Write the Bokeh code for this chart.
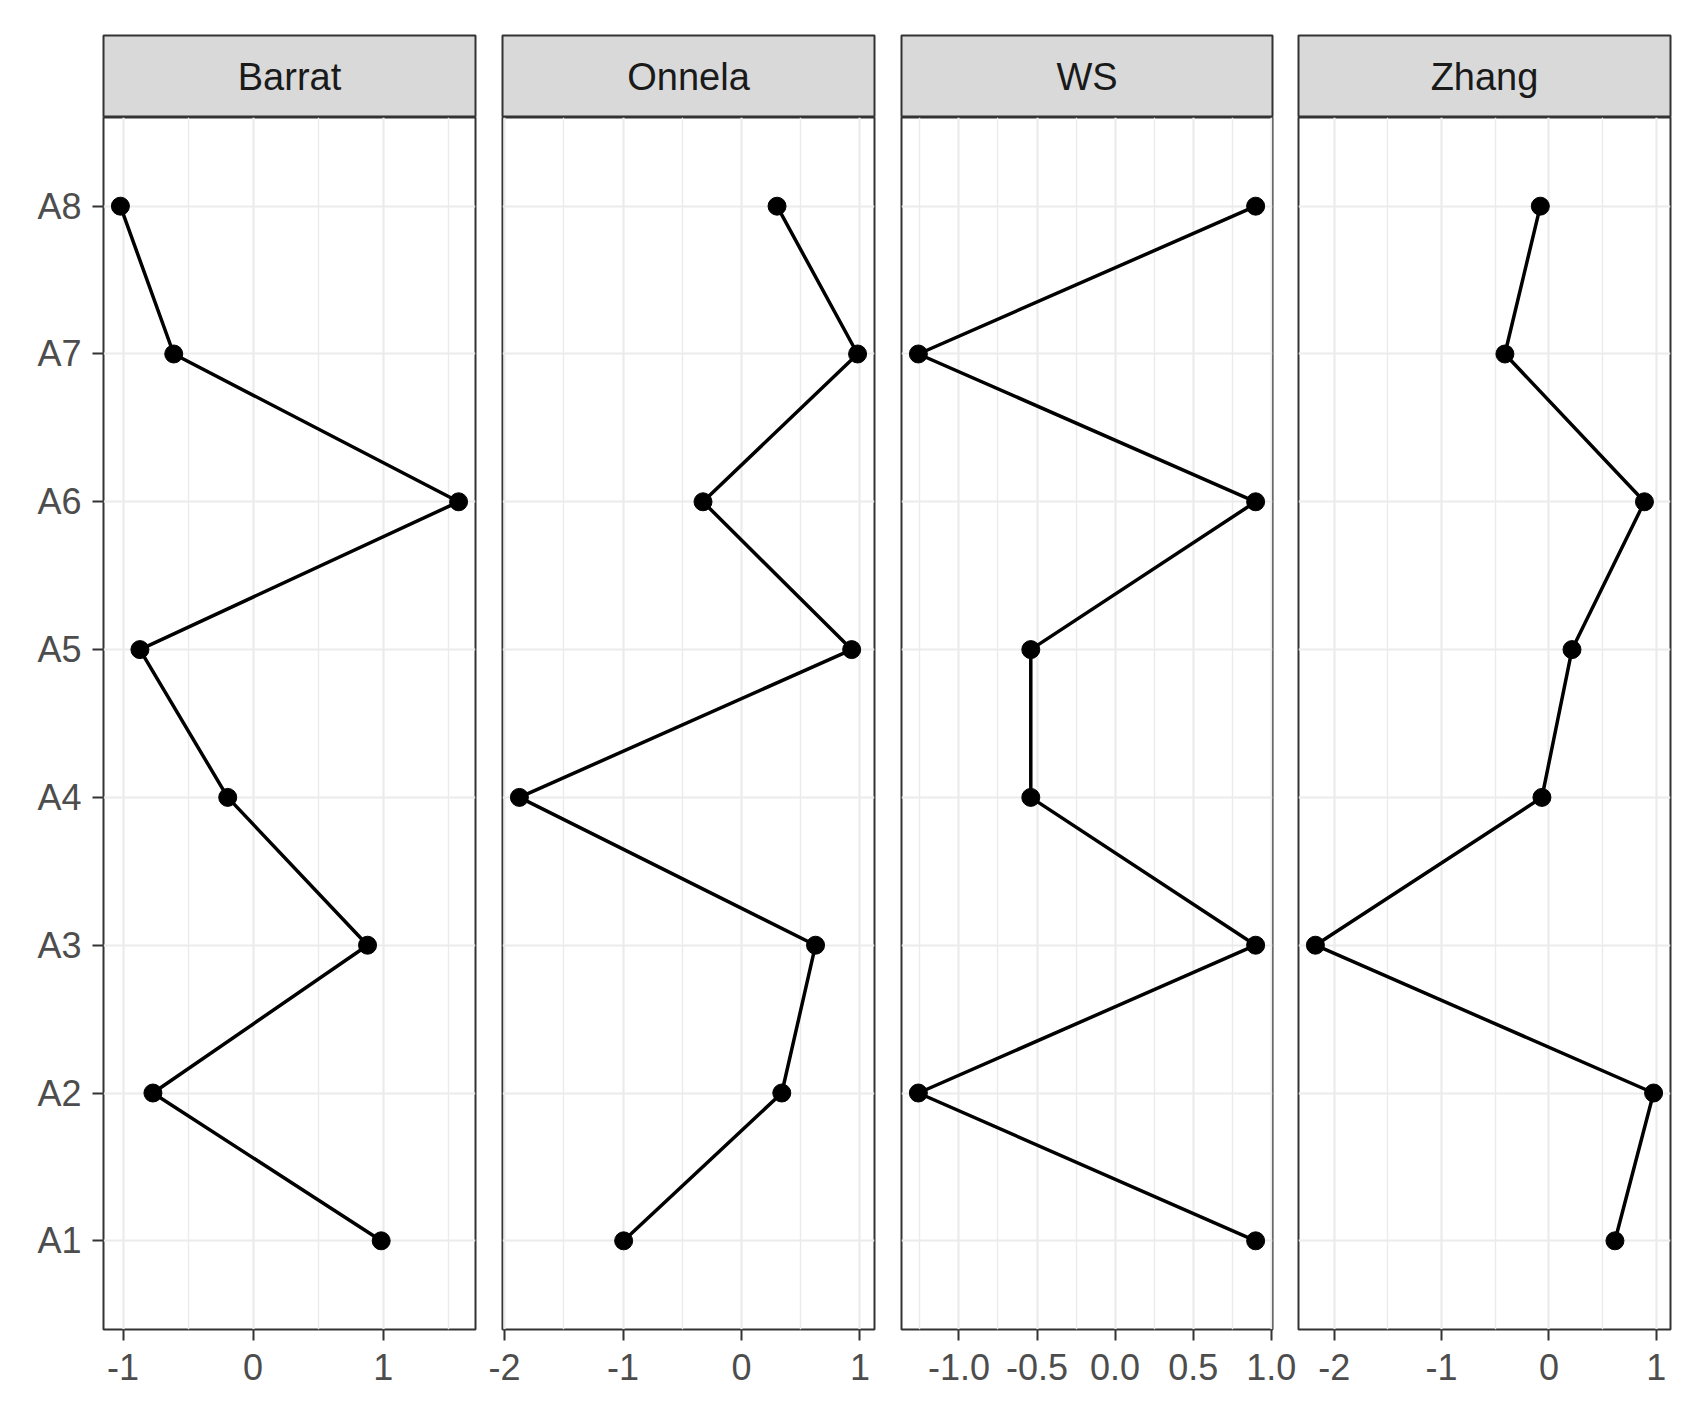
from bokeh.plotting import figure
from bokeh.models import Range1d, FactorRange, FixedTicker
from bokeh.layouts import row, column
from bokeh.embed import file_html
from bokeh.resources import INLINE
from bokeh.core.properties import value

# ---------------- data ----------------
categories = ["A1", "A2", "A3", "A4", "A5", "A6", "A7", "A8"]
panels = ["Barrat", "Onnela", "WS", "Zhang"]

barrat = [0.985, -0.77, 0.88, -0.195, -0.87, 1.58, -0.61, -1.02]
onnela = [-0.995, 0.34, 0.625, -1.875, 0.93, -0.325, 0.98, 0.30]
ws = [0.90, -1.26, 0.90, -0.54, -0.54, 0.90, -1.26, 0.90]
zhang = [0.615, 0.975, -2.175, -0.065, 0.215, 0.89, -0.41, -0.08]

barrat_ticks = [-1.0, 0.0, 1.0]
barrat_tick_labels = ["-1", "0", "1"]
barrat_minor = [-0.5, 0.5, 1.5]

onnela_ticks = [-2.0, -1.0, 0.0, 1.0]
onnela_tick_labels = ["-2", "-1", "0", "1"]
onnela_minor = [-1.5, -0.5, 0.5]

ws_ticks = [-1.0, -0.5, 0.0, 0.5, 1.0]
ws_tick_labels = ["-1.0", "-0.5", "0.0", "0.5", "1.0"]
ws_minor = [-1.25, -0.75, -0.25, 0.25, 0.75]

zhang_ticks = [-2.0, -1.0, 0.0, 1.0]
zhang_tick_labels = ["-2", "-1", "0", "1"]
zhang_minor = [-1.5, -0.5, 0.5]

series = [barrat, onnela, ws, zhang]
ticks = [barrat_ticks, onnela_ticks, ws_ticks, zhang_ticks]
tick_labels = [barrat_tick_labels, onnela_tick_labels, ws_tick_labels, zhang_tick_labels]
minors = [barrat_minor, onnela_minor, ws_minor, zhang_minor]

# ---------------- style / layout ----------------
FONT = "Liberation Sans"
FS = "36px"
STRIP_FS = "38px"
BORDER = "#333333"
GRID = "#EBEBEB"
frame_w = [372, 372, 371, 372]
left_b = [103, 18, 25, 2]
right_b = [9, 2, 24, 8]
STRIP_TOP = 35
STRIP_H = 82
FRAME_H = 1212
BOTTOM_B = 70

yr = FactorRange(factors=categories, range_padding=0.1, range_padding_units="absolute")

strips = []
plots = []
for i, name in enumerate(panels):
    vals = series[i]
    lo, hi = min(vals), max(vals)
    pad = 0.05 * (hi - lo)
    xr = Range1d(lo - pad, hi + pad)
    w = left_b[i] + frame_w[i] + right_b[i]

    # strip (facet label)
    s = figure(width=w, height=STRIP_TOP + STRIP_H, x_range=(0, 1), y_range=(0, 1),
               x_axis_location=None, y_axis_location=None,
               toolbar_location=None, output_backend="svg",
               min_border_left=left_b[i], min_border_right=right_b[i],
               min_border_top=STRIP_TOP, min_border_bottom=0)
    s.grid.visible = False
    s.background_fill_color = "#D9D9D9"
    s.border_fill_color = "white"
    s.outline_line_color = BORDER
    s.outline_line_width = 2
    s.text(x=[0.5], y=[0.5], text=[name], text_align="center", text_baseline="middle",
           text_font=value(FONT), text_font_size=STRIP_FS, text_color="#1A1A1A")
    strips.append(s)

    # panel
    p = figure(width=w, height=FRAME_H + BOTTOM_B, x_range=xr, y_range=yr,
               y_axis_location="left" if i == 0 else None,
               toolbar_location=None, output_backend="svg",
               min_border_left=left_b[i], min_border_right=right_b[i],
               min_border_top=0, min_border_bottom=BOTTOM_B)
    p.background_fill_color = "white"
    p.border_fill_color = "white"
    p.outline_line_color = BORDER
    p.outline_line_width = 2

    tk = FixedTicker(ticks=ticks[i], minor_ticks=minors[i])
    p.xaxis.ticker = tk
    p.xgrid.ticker = tk
    p.xaxis.major_label_overrides = {t: l for t, l in zip(ticks[i], tick_labels[i])}
    p.xaxis.axis_line_color = None
    p.xaxis.major_tick_line_color = BORDER
    p.xaxis.major_tick_line_width = 2
    p.xaxis.major_tick_in = 0
    p.xaxis.major_tick_out = 11
    p.xaxis.minor_tick_line_color = None
    p.xaxis.major_label_text_font = FONT
    p.xaxis.major_label_text_font_size = FS
    p.xaxis.major_label_text_color = "#4D4D4D"
    p.xaxis.major_label_standoff = 13

    if i == 0:
        p.yaxis.axis_line_color = None
        p.yaxis.major_tick_line_color = BORDER
        p.yaxis.major_tick_line_width = 2
        p.yaxis.major_tick_in = 0
        p.yaxis.major_tick_out = 11
        p.yaxis.major_label_text_font = FONT
        p.yaxis.major_label_text_font_size = FS
        p.yaxis.major_label_text_color = "#4D4D4D"
        p.yaxis.major_label_standoff = 11

    p.xgrid.grid_line_color = GRID
    p.xgrid.grid_line_width = 2.2
    p.xgrid.minor_grid_line_color = GRID
    p.xgrid.minor_grid_line_width = 1.4
    p.ygrid.grid_line_color = GRID
    p.ygrid.grid_line_width = 2.2

    p.line(x=vals, y=categories, line_color="black", line_width=3.5)
    p.scatter(x=vals, y=categories, size=18, fill_color="black", line_color="black")
    plots.append(p)

layout = column(row(*strips, spacing=0), row(*plots, spacing=0), spacing=0)
open("out.html", "w").write(file_html(layout, INLINE))
